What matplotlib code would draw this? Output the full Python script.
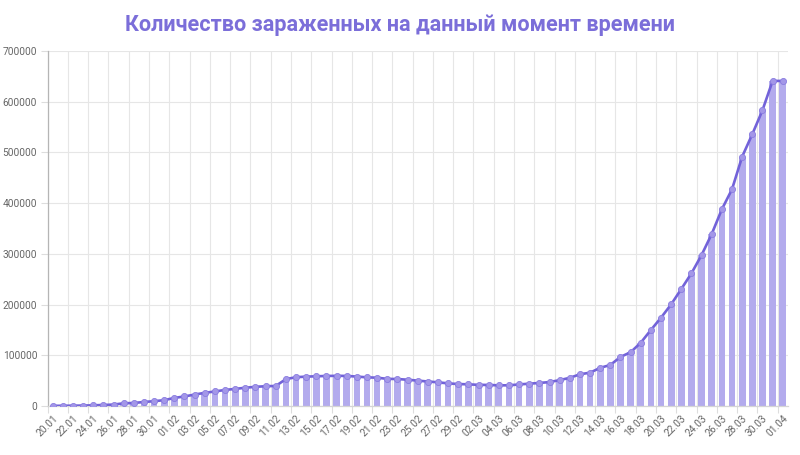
import matplotlib
matplotlib.use("Agg")
import matplotlib.pyplot as plt
from matplotlib.ticker import FixedLocator, NullFormatter

dates = ["20.01", "21.01", "22.01", "23.01", "24.01", "25.01", "26.01", "27.01", "28.01", "29.01",
         "30.01", "31.01", "01.02", "02.02", "03.02", "04.02", "05.02", "06.02", "07.02", "08.02",
         "09.02", "10.02", "11.02", "12.02", "13.02", "14.02", "15.02", "16.02", "17.02", "18.02",
         "19.02", "20.02", "21.02", "22.02", "23.02", "24.02", "25.02", "26.02", "27.02", "28.02",
         "29.02", "01.03", "02.03", "03.03", "04.03", "05.03", "06.03", "07.03", "08.03", "09.03",
         "10.03", "11.03", "12.03", "13.03", "14.03", "15.03", "16.03", "17.03", "18.03", "19.03",
         "20.03", "21.03", "22.03", "23.03", "24.03", "25.03", "26.03", "27.03", "28.03", "29.03",
         "30.03", "31.03", "01.04"]

active = [282, 510, 606, 879, 1353, 2010, 2784, 5340, 5907, 7920,
          9492, 11495, 15953, 18832, 22548, 25947, 28673, 31661, 33698, 36000,
          37803, 39006, 39500, 53000, 56800, 57900, 58600, 59200, 59500, 59300,
          58000, 56500, 55800, 53500, 53200, 51800, 50000, 48300, 46700, 44600,
          43300, 42700, 41700, 41500, 40700, 40800, 42500, 44000, 45400, 47200,
          51000, 55600, 62500, 65700, 75300, 80900, 96800, 106000, 124800, 149900,
          174200, 200500, 230800, 261700, 297800, 339300, 388000, 427400, 491700, 536000,
          583000, 641000, 641000]

y_ticks = [0, 100000, 200000, 300000, 400000, 500000, 600000, 700000]
title = "Количество зараженных на данный момент времени"

W, H = 800, 455
fig = plt.figure(figsize=(W / 100, H / 100), dpi=100)
ax = fig.add_axes([47.6 / W, (H - 406) / H, 740.2 / W, 355 / H])

x = list(range(len(dates)))
ax.bar(x, active, width=0.66, color="#b3abed", zorder=2)
ax.plot(x, active, color="#7262d9", lw=1.9, marker="o", markersize=4.4,
        markerfacecolor="#a397e8", markeredgecolor="#8a7de0", markeredgewidth=0.6,
        zorder=3)

ax.set_xlim(-0.5, len(dates) - 0.5)
ax.set_ylim(0, 700000)

major = list(range(0, len(dates), 2))
ax.xaxis.set_major_locator(FixedLocator(major))
ax.set_xticklabels([dates[i] for i in major], rotation=45, ha="right", va="top",
                   rotation_mode="anchor", fontsize=7.3, color="#666666", family="Roboto")
ax.tick_params(axis="x", which="major", length=0, pad=5)
ax.xaxis.set_minor_locator(FixedLocator([i - 0.5 for i in major]))
ax.xaxis.set_minor_formatter(NullFormatter())
ax.tick_params(axis="x", which="minor", length=5, color="#dddddd", width=0.8)
ax.grid(axis="x", which="minor", color="#e6e6e6", lw=0.8, zorder=0)

ax.set_yticks(y_ticks)
ax.set_yticklabels([str(v) for v in y_ticks], fontsize=7.3, color="#666666", family="Roboto")
ax.tick_params(axis="y", length=5, color="#dddddd", width=0.8, pad=2.5)
ax.grid(axis="y", color="#e6e6e6", lw=0.8, zorder=0)
ax.set_axisbelow(True)

for s in ["top", "right"]:
    ax.spines[s].set_visible(False)
ax.spines["left"].set_color("#b5b5b5")
ax.spines["bottom"].set_color("#d5d5d5")
ax.spines["left"].set_linewidth(0.9)
ax.spines["bottom"].set_linewidth(0.9)

fig.text(0.5, 1 - 25 / H, title, ha="center", va="center", fontsize=15.6,
         fontweight="bold", color="#7b6ed9", family="Roboto")

fig.savefig("out.png", dpi=100)
